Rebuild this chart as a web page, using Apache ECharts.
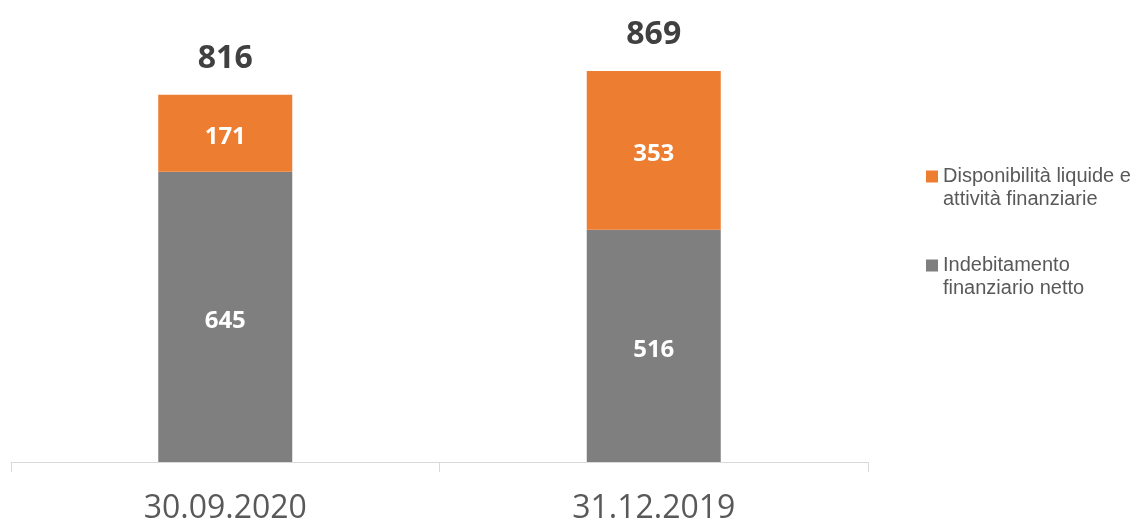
<!DOCTYPE html>
<html>
<head>
<meta charset="utf-8">
<script src="https://cdn.jsdelivr.net/npm/echarts@6/dist/echarts.min.js"></script>
<style>html,body{margin:0;padding:0;background:#fff}#c{width:1136px;height:519px}</style>
</head>
<body>
<div id="c"></div>
<script>
var categories = ['30.09.2020', '31.12.2019'];
var nameDebt = 'Indebitamento\nfinanziario netto';
var nameCash = 'Disponibilità liquide e\nattività finanziarie';
var debtValues = [645, 516];
var cashValues = [171, 353];
var totalValues = [816, 869];

var chart = echarts.init(document.getElementById('c'));
chart.setOption({
  animation: false,
  backgroundColor: '#ffffff',
  grid: { left: 11, right: 268, top: 12, bottom: 57, containLabel: false, outerBoundsMode: 'none' },
  legend: {
    data: [nameCash, nameDebt],
    orient: 'vertical',
    left: 926,
    top: 142,
    padding: 0,
    itemWidth: 12,
    itemHeight: 12,
    itemGap: 20,
    icon: 'rect',
    selectedMode: false,
    formatter: function (n) { return '\n' + n; },
    textStyle: {
      fontFamily: 'Liberation Sans',
      fontSize: 20,
      lineHeight: 23,
      color: '#595959'
    }
  },
  xAxis: {
    type: 'category',
    data: categories,
    axisLine: { lineStyle: { color: '#D9D9D9', width: 1 } },
    axisTick: { show: true, length: 10, lineStyle: { color: '#D9D9D9' } },
    axisLabel: { fontFamily: 'Open Sans', fontSize: 32, color: '#595959', margin: 31 }
  },
  yAxis: { type: 'value', min: 0, max: 1000, show: false, splitLine: { show: false } },
  series: [
    {
      name: nameDebt, type: 'bar', stack: 'a', data: debtValues, barWidth: 134,
      itemStyle: { color: '#7F7F7F' },
      label: { show: true, position: 'inside', offset: [0, 4], color: '#ffffff', fontFamily: 'Open Sans', fontWeight: 'bold', fontSize: 24 }
    },
    {
      name: nameCash, type: 'bar', stack: 'a', data: cashValues, barWidth: 134,
      itemStyle: { color: '#ED7D31' },
      label: { show: true, position: 'inside', offset: [0, 4], color: '#ffffff', fontFamily: 'Open Sans', fontWeight: 'bold', fontSize: 24 }
    },
    {
      name: 'Totale', type: 'bar', data: totalValues, barWidth: 134, barGap: '-100%', z: 1, silent: true,
      itemStyle: { color: 'rgba(0,0,0,0)' },
      label: { show: true, position: 'top', distance: 20, color: '#404040', fontFamily: 'Open Sans', fontWeight: 'bold', fontSize: 32 }
    }
  ]
});
</script>
</body>
</html>
